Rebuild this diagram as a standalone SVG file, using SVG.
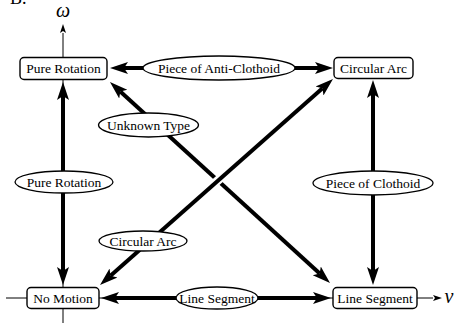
<svg xmlns="http://www.w3.org/2000/svg" width="459" height="323" viewBox="0 0 459 323">
<style>
text{font-family:"Liberation Serif","Times New Roman",serif;font-size:13.5px;fill:#000;text-anchor:middle}
.box{fill:#fff;stroke:#000;stroke-width:1.4}
.lab{fill:#fff;stroke:#000;stroke-width:1.3}
.edge{stroke:#000;stroke-width:4;fill:none;marker-start:url(#ah);marker-end:url(#ah)}
.axis{stroke:#000;stroke-width:1;fill:none}
.math{font-style:italic;font-size:20px}
</style>
<defs>
<marker id="ah" markerUnits="userSpaceOnUse" markerWidth="20" markerHeight="14" viewBox="0 -7 20 14" refX="4" refY="0" orient="auto-start-reverse">
<path d="M18,0 L0,-6 L4,0 L0,6 Z" fill="#000"/>
</marker>
<marker id="sa" markerUnits="userSpaceOnUse" markerWidth="10" markerHeight="8" viewBox="0 -4 10 8" refX="0" refY="0" orient="auto">
<path d="M9,0 L0,-3 L2,0 L0,3 Z" fill="#000"/>
</marker>
</defs>
<text x="10" y="4" style="font-size:18px;text-anchor:start">B.</text>
<g id="axes">
<line class="axis" x1="63" y1="323" x2="63" y2="33" marker-end="url(#sa)"/>
<line class="axis" x1="6" y1="298" x2="433" y2="298" marker-end="url(#sa)"/>
<text class="math" x="63" y="17">ω</text>
<text class="math" x="449" y="303">v</text>
</g>
<g id="connectors">
<line class="edge" x1="124" y1="68" x2="319" y2="68"/>
<line class="edge" x1="63" y1="96" x2="63" y2="271"/>
<line class="edge" x1="373" y1="94" x2="373" y2="271"/>
<line class="edge" x1="115" y1="298" x2="317" y2="298"/>
<line class="edge" x1="120.3" y1="91.4" x2="319.7" y2="273.6"/>
<line x1="130" y1="258" x2="305" y2="103.5" stroke="#fff" stroke-width="9"/>
<line class="edge" x1="110.5" y1="275.7" x2="322.5" y2="88.3"/>
</g>
<g id="n-pure-rotation"><rect class="box" x="20" y="57.5" width="87" height="22" rx="4"/><text x="63.5" y="73">Pure Rotation</text></g>
<g id="n-circular-arc"><rect class="box" x="334" y="57.5" width="79" height="21" rx="4"/><text x="373.5" y="72.5">Circular Arc</text></g>
<g id="n-no-motion"><rect class="box" x="27" y="287.5" width="72" height="21" rx="4"/><text x="63" y="302.5">No Motion</text></g>
<g id="n-line-segment"><rect class="box" x="333" y="287.5" width="84" height="21" rx="4"/><text x="375" y="302.5">Line Segment</text></g>
<g id="l-anti-clothoid"><ellipse class="lab" cx="219" cy="68" rx="76" ry="12"/><text x="219" y="72.5">Piece of Anti-Clothoid</text></g>
<g id="l-pure-rotation"><ellipse class="lab" cx="64" cy="182" rx="49" ry="11"/><text x="64" y="186.5">Pure Rotation</text></g>
<g id="l-clothoid"><ellipse class="lab" cx="373" cy="183" rx="60" ry="12"/><text x="373" y="187.5">Piece of Clothoid</text></g>
<g id="l-line-segment"><ellipse class="lab" cx="217" cy="298" rx="41" ry="11"/><text x="217" y="302.5">Line Segment</text></g>
<g id="l-unknown"><ellipse class="lab" cx="148.5" cy="125" rx="50" ry="12"/><text x="148.5" y="129.5">Unknown Type</text></g>
<g id="l-circular-arc"><ellipse class="lab" cx="143" cy="241" rx="44" ry="10"/><text x="143" y="245.5">Circular Arc</text></g>
</svg>
